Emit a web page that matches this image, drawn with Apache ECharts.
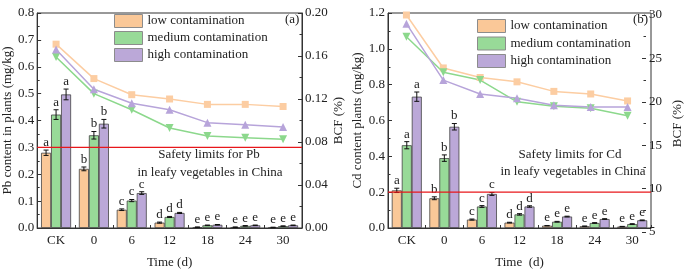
<!DOCTYPE html>
<html>
<head>
<meta charset="utf-8">
<script src="https://cdn.jsdelivr.net/npm/echarts@6/dist/echarts.min.js"></script>
<style>
html,body{margin:0;padding:0;background:#fff;}
#c{width:685px;height:276px;}
</style>
</head>
<body>
<div id="c"></div>
<script>
const categories = ['CK', '0', '6', '12', '18', '24', '30'];
const seriesNames = ['low contamination', 'medium contamination', 'high contamination'];

// Panel (a): Pb content (mg/kg)
const pbLow = [0.280, 0.220, 0.068, 0.020, 0.003, 0.003, 0.002];
const pbMed = [0.422, 0.345, 0.102, 0.041, 0.010, 0.008, 0.007];
const pbHigh = [0.497, 0.388, 0.130, 0.056, 0.012, 0.010, 0.010];
const pbLowErr = [0.010, 0.007, 0.003, 0.002, 0.001, 0.001, 0.001];
const pbMedErr = [0.018, 0.014, 0.004, 0.002, 0.001, 0.001, 0.001];
const pbHighErr = [0.020, 0.016, 0.005, 0.002, 0.001, 0.001, 0.001];
const pbLetters = ['a', 'b', 'c', 'd', 'e', 'e', 'e'];
// Panel (a): BCF (%)
const pbBcfLow = [0.171, 0.139, 0.124, 0.120, 0.115, 0.115, 0.113];
const pbBcfMed = [0.159, 0.125, 0.110, 0.093, 0.0855, 0.084, 0.0825];
const pbBcfHigh = [0.166, 0.129, 0.116, 0.110, 0.098, 0.096, 0.094];
const pbLimit = 0.3;

// Panel (b): Cd content (mg/kg)
const cdLow = [0.210, 0.166, 0.047, 0.030, 0.013, 0.010, 0.008];
const cdMed = [0.462, 0.390, 0.120, 0.076, 0.035, 0.028, 0.022];
const cdHigh = [0.733, 0.565, 0.190, 0.120, 0.064, 0.050, 0.043];
const cdLowErr = [0.012, 0.008, 0.003, 0.002, 0.001, 0.001, 0.001];
const cdMedErr = [0.020, 0.018, 0.005, 0.004, 0.002, 0.002, 0.002];
const cdHighErr = [0.026, 0.018, 0.008, 0.004, 0.002, 0.002, 0.002];
const cdLetters = ['a', 'b', 'c', 'd', 'e', 'e', 'e'];
// Panel (b): BCF (%)
const cdBcfLow = [30.0, 23.9, 22.8, 22.3, 21.2, 20.9, 20.1];
const cdBcfMed = [27.5, 23.4, 22.5, 20.0, 19.5, 19.25, 18.4];
const cdBcfHigh = [29.0, 22.5, 20.9, 20.4, 19.6, 19.4, 19.4];
const cdLimit = 0.2;

const barColors = ['#FAC898', '#98DA98', '#BBA8D8'];
const lineColors = ['#FCCDA2', '#8CD88C', '#B7A4DA'];
const FONT = '"Liberation Serif", "Times New Roman", serif';
const TXT = '#222';
const BW = 10;

const chart = echarts.init(document.getElementById('c'), null, {renderer: 'canvas'});

function yAx(gridIndex, pos, min, max, interval, digits, name, nameGap, extra) {
  return Object.assign({
    type: 'value', gridIndex, position: pos, min, max, interval,
    name, nameLocation: 'middle', nameGap, nameRotate: 90,
    nameTextStyle: {fontFamily: FONT, fontSize: 13, color: TXT},
    axisLine: {show: true, lineStyle: {color: '#333', width: 1}},
    axisTick: {show: true, inside: true, length: 4, lineStyle: {color: '#333'}},
    minorTick: {show: true, splitNumber: 2, length: 2.5, lineStyle: {color: '#333'}},
    splitLine: {show: false},
    axisLabel: {fontFamily: FONT, fontSize: 13, color: TXT, margin: 3,
      formatter: v => v.toFixed(digits)}
  }, extra || {});
}
function xAx(gridIndex, name, show) {
  return {
    type: 'category', gridIndex, data: categories, show: show !== false,
    name, nameLocation: 'middle', nameGap: 28,
    nameTextStyle: {fontFamily: FONT, fontSize: 13, color: TXT},
    axisLine: {show: true, lineStyle: {color: '#333', width: 1}},
    axisTick: {show: true, inside: true, length: 3, lineStyle: {color: '#333'}},
    axisLabel: {fontFamily: FONT, fontSize: 13, color: TXT, margin: 6},
    splitLine: {show: false}
  };
}
function barS(name, xi, yi, data, ci) {
  return {
    type: 'bar', name, xAxisIndex: xi, yAxisIndex: yi, data,
    barWidth: BW, barGap: '0%',
    itemStyle: {color: barColors[ci], borderColor: '#444', borderWidth: 0.8},
    z: 2
  };
}
function limitS(xi, yi, limit) {
  return {
    type: 'custom', xAxisIndex: xi, yAxisIndex: yi, z: 6, silent: true,
    data: [[0, limit]],
    renderItem(params, api) {
      const y = api.coord([0, api.value(1)])[1];
      const cs = params.coordSys;
      return {type: 'line', shape: {x1: cs.x, y1: y, x2: cs.x + cs.width, y2: y},
        style: {stroke: '#E8171B', lineWidth: 1.2}};
    }
  };
}
function errS(xi, yi, vals, errs, letters, idx) {
  return {
    type: 'custom', xAxisIndex: xi, yAxisIndex: yi, z: 5, silent: true,
    data: vals.map((v, i) => [i, v, errs[i]]),
    renderItem(params, api) {
      const x = api.value(0), v = api.value(1), e = api.value(2);
      const base = api.coord([x, v]);
      const cx = base[0] + (idx - 1) * BW;
      const top = api.coord([x, v + e])[1];
      const bot = api.coord([x, Math.max(v - e, 0)])[1];
      const ls = {stroke: '#111', lineWidth: 1};
      return {
        type: 'group', children: [
          {type: 'line', shape: {x1: cx, y1: top, x2: cx, y2: bot}, style: ls},
          {type: 'line', shape: {x1: cx - 2.5, y1: top, x2: cx + 2.5, y2: top}, style: ls},
          {type: 'line', shape: {x1: cx - 2.5, y1: bot, x2: cx + 2.5, y2: bot}, style: ls},
          {type: 'text', style: {text: letters[params.dataIndex], x: cx, y: top - 1,
            align: 'center', verticalAlign: 'bottom', font: '13px ' + FONT, fill: TXT}}
        ]
      };
    }
  };
}
function lineS(name, xi, yi, data, ci, symbol, rot) {
  return {
    type: 'line', name, xAxisIndex: xi, yAxisIndex: yi, data,
    symbol, symbolSize: symbol === 'rect' ? 7 : 8, symbolRotate: rot || 0,
    lineStyle: {color: lineColors[ci], width: 1.5},
    itemStyle: {color: lineColors[ci]},
    z: 4
  };
}
function legendData() {
  return seriesNames.map(n => ({name: n, itemStyle: {borderColor: '#8c8c8c', borderWidth: 1}}));
}

const option = {
  animation: false,
  backgroundColor: '#fff',
  grid: [
    {left: 37, right: 383, top: 13, bottom: 48, show: true, borderColor: '#333', borderWidth: 1},
    {left: 388, right: 34, top: 13, bottom: 48, show: true, borderColor: '#333', borderWidth: 1},
    {left: 388, right: 34, top: 15, bottom: 44}
  ],
  legend: [
    {data: legendData(), orient: 'vertical', left: 109, top: 9, icon: 'rect',
     itemWidth: 28, itemHeight: 13, itemGap: 3, selectedMode: false,
     textStyle: {fontFamily: FONT, fontSize: 13, color: TXT, lineHeight: 13}},
    {data: legendData(), orient: 'vertical', left: 472, top: 14, icon: 'rect',
     itemWidth: 28, itemHeight: 13, itemGap: 3.5, selectedMode: false,
     textStyle: {fontFamily: FONT, fontSize: 13, color: TXT, lineHeight: 13}}
  ],
  xAxis: [
    xAx(0, 'Time (d)'),
    xAx(1, 'Time  (d)'),
    xAx(2, '', false)
  ],
  yAxis: [
    yAx(0, 'left', 0, 0.8, 0.1, 1, 'Pb content in plants (mg/kg)', 21),
    yAx(0, 'right', 0, 0.2, 0.04, 2, 'BCF (%)', 30),
    yAx(1, 'left', 0, 1.2, 0.2, 1, 'Cd content plants (mg/kg)', 24),
    yAx(2, 'right', 5, 30, 5, 0, 'BCF (%)', 25, {axisLine: {show: false}})
  ],
  series: [
    barS(seriesNames[0], 0, 0, pbLow, 0),
    barS(seriesNames[1], 0, 0, pbMed, 1),
    barS(seriesNames[2], 0, 0, pbHigh, 2),
    errS(0, 0, pbLow, pbLowErr, pbLetters, 0),
    errS(0, 0, pbMed, pbMedErr, pbLetters, 1),
    errS(0, 0, pbHigh, pbHighErr, pbLetters, 2),
    limitS(0, 0, pbLimit),
    lineS('Pb BCF low', 0, 1, pbBcfLow, 0, 'rect'),
    lineS('Pb BCF medium', 0, 1, pbBcfMed, 1, 'triangle', 180),
    lineS('Pb BCF high', 0, 1, pbBcfHigh, 2, 'triangle'),

    barS(seriesNames[0], 1, 2, cdLow, 0),
    barS(seriesNames[1], 1, 2, cdMed, 1),
    barS(seriesNames[2], 1, 2, cdHigh, 2),
    errS(1, 2, cdLow, cdLowErr, cdLetters, 0),
    errS(1, 2, cdMed, cdMedErr, cdLetters, 1),
    errS(1, 2, cdHigh, cdHighErr, cdLetters, 2),
    limitS(1, 2, cdLimit),
    lineS('Cd BCF low', 2, 3, cdBcfLow, 0, 'rect'),
    lineS('Cd BCF medium', 2, 3, cdBcfMed, 1, 'triangle', 180),
    lineS('Cd BCF high', 2, 3, cdBcfHigh, 2, 'triangle')
  ],
  graphic: [
    {type: 'text', left: 285, top: 13, style: {text: '(a)', font: '13px ' + FONT, fill: TXT}},
    {type: 'text', left: 633, top: 13, style: {text: '(b)', font: '13px ' + FONT, fill: TXT}},
    {type: 'text', x: 209, y: 155, style: {text: 'Safety limits for Pb', font: '13px ' + FONT, fill: TXT, align: 'center', verticalAlign: 'middle'}},
    {type: 'text', x: 210, y: 173, style: {text: 'in leafy vegetables in China', font: '13px ' + FONT, fill: TXT, align: 'center', verticalAlign: 'middle'}},
    {type: 'text', x: 570, y: 155, style: {text: 'Safety limits for Cd', font: '13px ' + FONT, fill: TXT, align: 'center', verticalAlign: 'middle'}},
    {type: 'text', x: 573, y: 172, style: {text: 'in leafy vegetables in China', font: '13px ' + FONT, fill: TXT, align: 'center', verticalAlign: 'middle'}}
  ]
};
chart.setOption(option);
</script>
</body>
</html>
